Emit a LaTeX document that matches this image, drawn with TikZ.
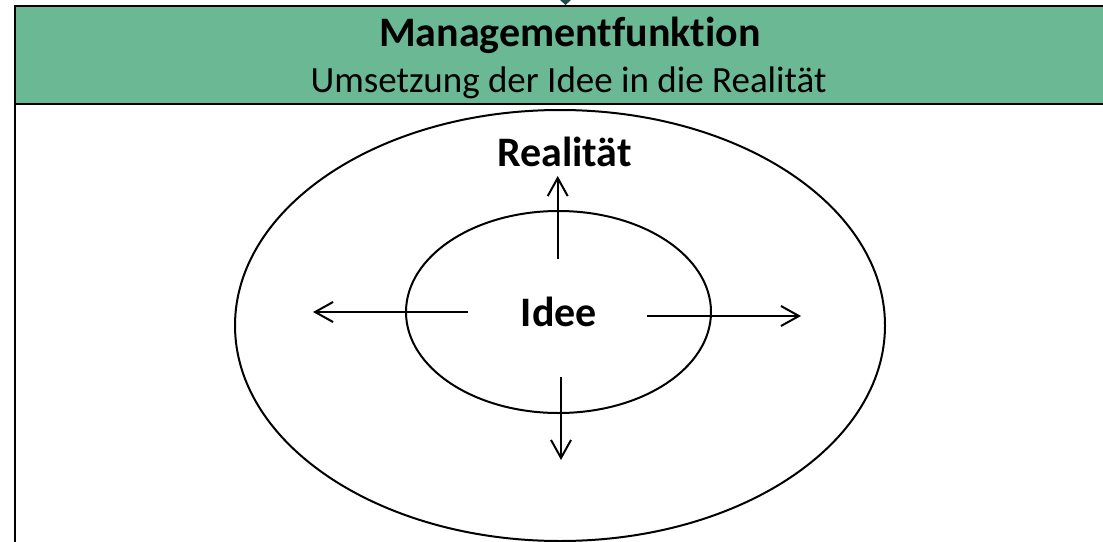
\documentclass[tikz,border=0pt]{standalone}
\usepackage{fontspec}
\setmainfont{Carlito}[RawFeature={-liga;-dlig;-clig}]
\usetikzlibrary{arrows.meta,shapes.geometric}
\definecolor{hdrgreen}{RGB}{107,184,149}
\definecolor{tipteal}{RGB}{31,74,72}
\begin{document}
\begin{tikzpicture}[x=1pt,y=-1pt,line width=2pt,
  boldtxt/.style={font=\fontsize{42}{50}\selectfont\bfseries,inner sep=0pt,anchor=base},
  subtxt/.style={font=\fontsize{37}{44}\selectfont,inner sep=0pt,anchor=base},
  ring/.style={ellipse,draw,line width=2pt,inner sep=0pt},
  arr/.style={-{Straight Barb[length=18pt,width=20pt]},line width=2pt}]
\useasboundingbox (0,0) rectangle (1103,541);
\begin{scope}
\clip (0,0) rectangle (1103,541);
\draw (15,104) -- (15,600);
\fill[tipteal] (560,0) -- (571,0) -- (565.5,5) -- cycle;
\draw[fill=hdrgreen] (15,6) rectangle (1130,104);
\node[ring,minimum width=650pt,minimum height=431pt] (outer) at (560,325.5) {};
\end{scope}
\node[ring,minimum width=305pt,minimum height=202pt] (inner) at (558.5,312) {};
\node[boldtxt] (title) at (570,46) {Managementfunktion};
\node[subtxt] (sub) at (568.5,92) {Umsetzung der Idee in die Realität};
\node[boldtxt] (real) at (564.5,166.5) {Realität};
\node[boldtxt] (idee) at (558.8,326.5) {Idee};
\coordinate (upS) at (557.7,259);
\coordinate (upE) at (557.7,176);
\coordinate (dnS) at (561,377);
\coordinate (dnE) at (561,460);
\coordinate (lfS) at (468,312);
\coordinate (lfE) at (313,312);
\coordinate (rtS) at (647,316);
\coordinate (rtE) at (801,316);
\draw[arr] (upS) -- (upE);
\draw[arr] (dnS) -- (dnE);
\draw[arr] (lfS) -- (lfE);
\draw[arr] (rtS) -- (rtE);
\end{tikzpicture}
\end{document}
